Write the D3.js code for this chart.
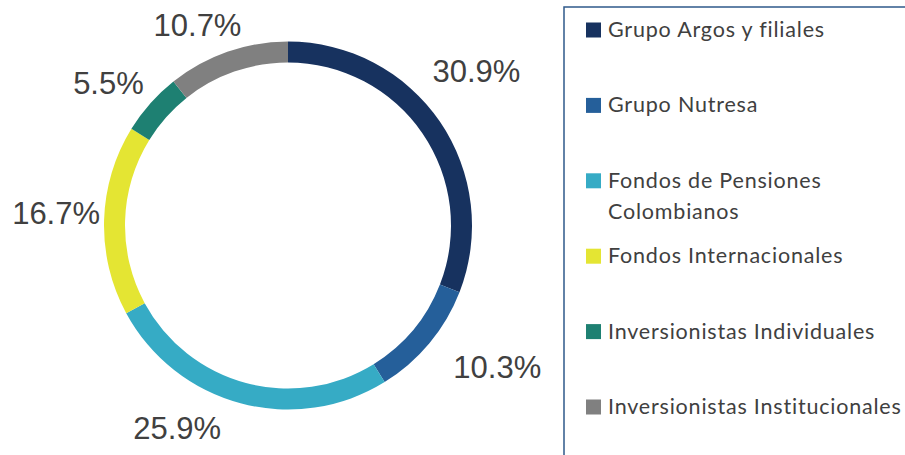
<!DOCTYPE html>
<html>
<head>
<meta charset="utf-8">
<script src="https://cdn.jsdelivr.net/npm/d3@7"></script>
<style>
  html, body { margin: 0; padding: 0; background: #ffffff; }
  svg { display: block; }
</style>
</head>
<body>
<svg id="chart" width="905" height="455"></svg>
<script>
// ---- data ----
const categories = [
  "Grupo Argos y filiales",
  "Grupo Nutresa",
  "Fondos de Pensiones Colombianos",
  "Fondos Internacionales",
  "Inversionistas Individuales",
  "Inversionistas Institucionales"
];
const values = [30.9, 10.3, 25.9, 16.7, 5.5, 10.7];
const valueLabels = ["30.9%", "10.3%", "25.9%", "16.7%", "5.5%", "10.7%"];

// ---- style / layout ----
const colors = ["#17325f", "#255f9a", "#36abc5", "#e4e533", "#1e8072", "#808080"];
const labelNudges = [[-3, -24], [31, -7], [-51, -22], [0, -6], [-6, 11], [-14, 18]];

const svg = d3.select("#chart");
const cx = 288, cy = 225.5, outerR = 184, innerR = 163, labelR = 232;

const pie = d3.pie().sort(null).value(d => d)(values);
const arc = d3.arc().innerRadius(innerR).outerRadius(outerR);
const labelArc = d3.arc().innerRadius(labelR).outerRadius(labelR);

const g = svg.append("g").attr("transform", `translate(${cx},${cy})`);
g.selectAll("path.slice")
  .data(pie)
  .join("path")
  .attr("class", "slice")
  .attr("d", arc)
  .attr("fill", (d, i) => colors[i]);

g.selectAll("text.val")
  .data(pie)
  .join("text")
  .attr("class", "val")
  .attr("x", (d, i) => labelArc.centroid(d)[0] + labelNudges[i][0])
  .attr("y", (d, i) => labelArc.centroid(d)[1] + labelNudges[i][1] + 11)
  .attr("text-anchor", "middle")
  .attr("font-family", "Liberation Sans, Arial, sans-serif")
  .attr("font-size", 31)
  .attr("fill", "#404040")
  .text((d, i) => valueLabels[i]);

// ---- legend ----
const legendBox = { x: 564, y: 7 };
svg.append("rect")
  .attr("x", legendBox.x)
  .attr("y", legendBox.y)
  .attr("width", 400)
  .attr("height", 500)
  .attr("fill", "none")
  .attr("stroke", "#2f5a8a")
  .attr("stroke-width", 1.5);

const slotY = d3.scaleLinear().domain([0, categories.length - 1]).range([37, 414]);
const maxW = 305;
const legend = svg.append("g");
categories.forEach((cat, i) => {
  const y = slotY(i);
  legend.append("rect")
    .attr("x", 586).attr("y", y - 14.5)
    .attr("width", 15).attr("height", 15)
    .attr("fill", colors[i]);
  const t = legend.append("text")
    .attr("x", 608).attr("y", y)
    .attr("font-family", "Lato, Carlito, Calibri, sans-serif")
    .attr("font-size", 21.5)
    .attr("letter-spacing", 0.8)
    .attr("fill", "#404040");
  // word wrap
  const words = cat.split(" ");
  let line = [];
  let lineNo = 0;
  let ts = t.append("tspan").attr("x", 608).attr("y", y);
  words.forEach(w => {
    line.push(w);
    ts.text(line.join(" "));
    if (ts.node().getComputedTextLength() > maxW && line.length > 1) {
      line.pop();
      ts.text(line.join(" "));
      line = [w];
      lineNo++;
      ts = t.append("tspan").attr("x", 608).attr("y", y + lineNo * 31).text(w);
    }
  });
});
</script>
</body>
</html>
